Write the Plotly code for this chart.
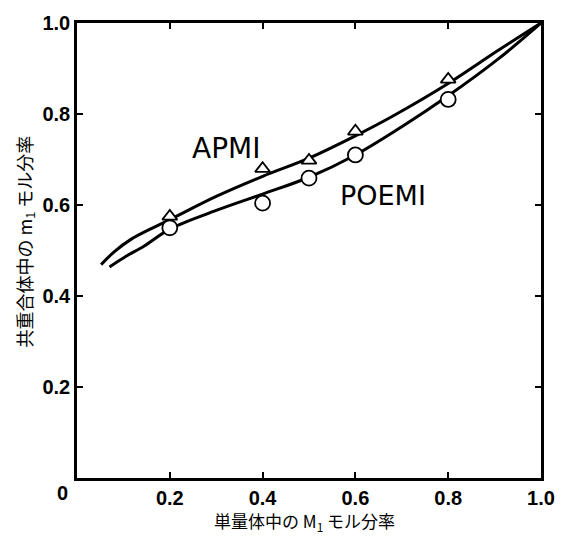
import plotly.graph_objects as go

# Fitted curves
apmi_curve_x = [0.052, 0.080, 0.117, 0.160, 0.200, 0.30, 0.40, 0.50, 0.60, 0.68, 0.80, 0.908, 1.0]
apmi_curve_y = [0.469, 0.497, 0.525, 0.548, 0.568, 0.619, 0.663, 0.703, 0.752, 0.795, 0.867, 0.940, 1.0]
poemi_curve_x = [0.070, 0.105, 0.145, 0.200, 0.30, 0.40, 0.50, 0.60, 0.70, 0.80, 0.908, 1.0]
poemi_curve_y = [0.464, 0.487, 0.510, 0.547, 0.588, 0.624, 0.661, 0.710, 0.772, 0.840, 0.921, 1.0]

# Experimental points
apmi_x = [0.2, 0.4, 0.5, 0.6, 0.8]
apmi_y = [0.575, 0.680, 0.698, 0.762, 0.876]
poemi_x = [0.2, 0.4, 0.5, 0.6, 0.8]
poemi_y = [0.550, 0.604, 0.659, 0.710, 0.832]

tick_vals = [0.2, 0.4, 0.6, 0.8, 1.0]
tick_text = ["0.2", "0.4", "0.6", "0.8", "1.0"]

fig = go.Figure()
line_style = dict(color="black", width=3, shape="spline", smoothing=1.0)
fig.add_trace(go.Scatter(x=apmi_curve_x, y=apmi_curve_y, mode="lines", line=line_style, showlegend=False))
fig.add_trace(go.Scatter(x=poemi_curve_x, y=poemi_curve_y, mode="lines", line=line_style, showlegend=False))
fig.add_trace(go.Scatter(x=apmi_x, y=apmi_y, mode="markers", showlegend=False,
                         marker=dict(symbol="triangle-up", size=13, color="white",
                                     line=dict(color="black", width=1.8))))
fig.add_trace(go.Scatter(x=poemi_x, y=poemi_y, mode="markers", showlegend=False,
                         marker=dict(symbol="circle", size=15, color="white",
                                     line=dict(color="black", width=1.8))))

tickfont = dict(family="Liberation Sans", size=20, color="black", weight="bold")
axis_common = dict(range=[0, 1.0], showgrid=False, zeroline=False, showline=True,
                   linecolor="black", linewidth=2.5, mirror="ticks", ticks="inside",
                   ticklen=6, tickwidth=1.5, tickcolor="black",
                   tickvals=tick_vals, ticktext=tick_text, tickfont=tickfont)

fig.update_layout(
    width=567, height=538,
    margin=dict(l=77, r=24, t=15, b=60),
    plot_bgcolor="white", paper_bgcolor="white",
    xaxis=dict(**axis_common),
    yaxis=dict(**axis_common),
    font=dict(family="Noto Sans CJK JP", color="black"),
)

annotations = [
    dict(x=0.0, y=0.0, xref="x", yref="y", text="<b>0</b>", showarrow=False,
         xshift=-15, yshift=-15, font=dict(family="Liberation Sans", size=20, color="black")),
    dict(x=0.322, y=0.725, xref="x", yref="y", text="APMI", showarrow=False,
         font=dict(family="DejaVu Sans", size=28, color="black")),
    dict(x=0.660, y=0.620, xref="x", yref="y", text="POEMI", showarrow=False,
         font=dict(family="DejaVu Sans", size=27, color="black")),
    dict(x=0.49, y=-0.095, xref="paper", yref="paper", xanchor="center", yanchor="middle",
         text="単量体中の M<sub>1</sub> モル分率",
         showarrow=False, font=dict(family="Noto Sans CJK JP", size=17, color="black")),
    dict(x=-0.112, y=0.52, xref="paper", yref="paper", xanchor="center", yanchor="middle",
         text="共重合体中の m<sub>1</sub> モル分率",
         showarrow=False, textangle=-90, font=dict(family="Noto Sans CJK JP", size=18, color="black")),
]
fig.update_layout(annotations=annotations)

fig.write_html("out.html")
